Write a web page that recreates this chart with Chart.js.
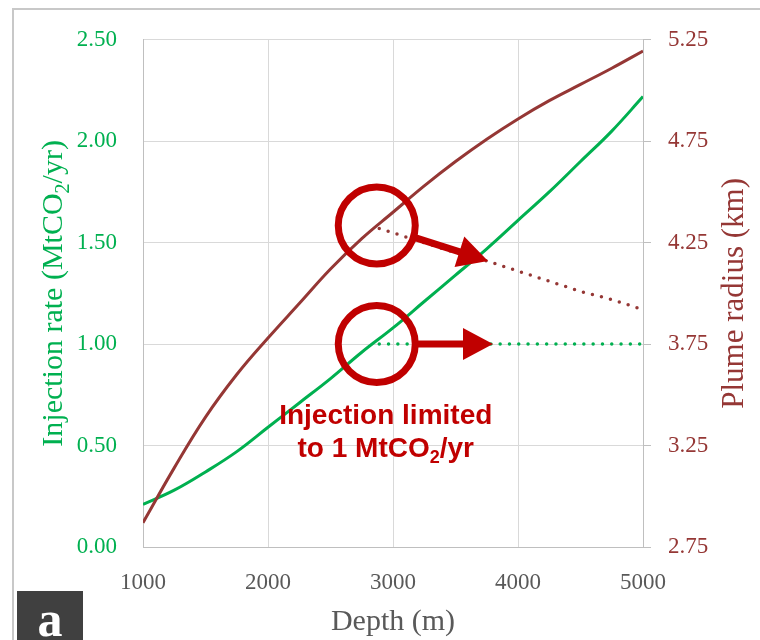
<!DOCTYPE html>
<html>
<head>
<meta charset="utf-8">
<title>Injection rate and plume radius vs depth</title>
<script src="https://cdn.jsdelivr.net/npm/chart.js@4.4.1/dist/chart.umd.min.js"></script>
<style>
  html, body { margin: 0; padding: 0; background: #fff; }
  canvas { display: block; }
</style>
</head>
<body>
<canvas id="chart" width="760" height="640"></canvas>
<script>
// Depth (m)
const depth = [1000, 1250, 1500, 1750, 2000, 2250, 2500, 2750, 3000, 3250, 3500, 3750, 4000, 4250, 4500, 4750, 5000];
// Injection rate, MtCO2/yr (left axis)
const injectionRate = [0.21, 0.28, 0.37, 0.47, 0.59, 0.71, 0.83, 0.96, 1.08, 1.21, 1.34, 1.47, 1.61, 1.75, 1.90, 2.05, 2.22];
// Plume radius, km (right axis)
const plumeRadius = [2.87, 3.14, 3.39, 3.60, 3.78, 3.95, 4.12, 4.27, 4.40, 4.53, 4.65, 4.76, 4.86, 4.95, 5.03, 5.11, 5.195];

// Injection capped at 1 MtCO2/yr
const limitedDepth = [2890, 3250, 3500, 3750, 4000, 4250, 4500, 4750, 5000];
const limitedRate = [1.0, 1.0, 1.0, 1.0, 1.0, 1.0, 1.0, 1.0, 1.0];
const limitedRadius = [4.32, 4.25, 4.20, 4.16, 4.11, 4.06, 4.01, 3.97, 3.92];

// Tick labels
const depthTicks = [1000, 2000, 3000, 4000, 5000];
const rateTicks = [0.0, 0.5, 1.0, 1.5, 2.0, 2.5];
const radiusTicks = [2.75, 3.25, 3.75, 4.25, 4.75, 5.25];

// Where the cap kicks in (circles) and where the arrows point
const capDepth = 2870;
const capRate = 1.0;
const capRadius = 4.335;
const arrowRadiusTip = [3760, 4.16];
const arrowRateTip = [3800, 1.0];

const GREEN = '#00B050';
const BROWN = '#953735';
const RED = '#C00000';
const GRID = '#D9D9D9';
const AXIS = '#BFBFBF';
const SERIF = '"Liberation Serif", "Times New Roman", serif';
const SANS = '"Liberation Sans", Arial, sans-serif';

const pts = (xs, ys) => xs.map((x, i) => ({ x: x, y: ys[i] }));

// text with a subscript piece, centred on (cx, baseline)
function drawRich(ctx, parts, cx, baseline, size, family, weight) {
  const fontFor = (p) => `${weight} ${p.sub ? Math.round(size * 0.65) : size}px ${family}`;
  let total = 0;
  const widths = parts.map(p => {
    ctx.font = fontFor(p);
    const w = ctx.measureText(p.t).width;
    total += w;
    return w;
  });
  let x = cx - total / 2;
  ctx.textAlign = 'left';
  ctx.textBaseline = 'alphabetic';
  parts.forEach((p, i) => {
    ctx.font = fontFor(p);
    ctx.fillText(p.t, x, baseline + (p.sub ? size * 0.22 : 0));
    x += widths[i];
  });
}

function ring(ctx, cx, cy) {
  ctx.beginPath();
  ctx.arc(cx, cy, 38.5, 0, Math.PI * 2);
  ctx.lineWidth = 7;
  ctx.strokeStyle = RED;
  ctx.stroke();
}

function arrow(ctx, cx, cy, tx, ty) {
  const a = Math.atan2(ty - cy, tx - cx);
  const c = Math.cos(a), s = Math.sin(a);
  const head = 30, half = 16;
  const x0 = cx + 38.5 * c, y0 = cy + 38.5 * s;
  const bx = tx - head * c, by = ty - head * s;
  ctx.beginPath();
  ctx.moveTo(x0, y0);
  ctx.lineTo(bx + 2 * c, by + 2 * s);
  ctx.lineWidth = 7;
  ctx.lineCap = 'butt';
  ctx.strokeStyle = RED;
  ctx.stroke();
  ctx.beginPath();
  ctx.moveTo(tx, ty);
  ctx.lineTo(bx - half * s, by + half * c);
  ctx.lineTo(bx + half * s, by - half * c);
  ctx.closePath();
  ctx.fillStyle = RED;
  ctx.fill();
}

const overlay = {
  id: 'overlay',
  beforeDraw(chart) {
    const ctx = chart.ctx;
    ctx.save();
    ctx.strokeStyle = '#C8C8C8';
    ctx.lineWidth = 2;
    ctx.strokeRect(13, 9, 800, 700);
    ctx.restore();
  },
  afterDraw(chart) {
    const { ctx, scales } = chart;
    const x = scales.x, y = scales.y, y1 = scales.y1;
    const midY = (chart.chartArea.top + chart.chartArea.bottom) / 2;
    ctx.save();

    // y axis titles, both reading upwards
    ctx.fillStyle = GREEN;
    ctx.save();
    ctx.translate(62, midY);
    ctx.rotate(-Math.PI / 2);
    drawRich(ctx, [{ t: 'Injection rate (MtCO' }, { t: '2', sub: true }, { t: '/yr)' }], 0, 0, 30, SERIF, 'normal');
    ctx.restore();

    ctx.fillStyle = BROWN;
    ctx.save();
    ctx.translate(743, midY);
    ctx.rotate(-Math.PI / 2);
    drawRich(ctx, [{ t: 'Plume radius (km)' }], 0, 0, 31, SERIF, 'normal');
    ctx.restore();

    // circles and arrows
    const cx = x.getPixelForValue(capDepth);
    const cyTop = y1.getPixelForValue(capRadius);
    const cyBot = y.getPixelForValue(capRate);
    ring(ctx, cx, cyTop);
    ring(ctx, cx, cyBot);
    arrow(ctx, cx, cyTop, x.getPixelForValue(arrowRadiusTip[0]), y1.getPixelForValue(arrowRadiusTip[1]));
    arrow(ctx, cx, cyBot, x.getPixelForValue(arrowRateTip[0]), y.getPixelForValue(arrowRateTip[1]));

    // annotation text
    ctx.fillStyle = RED;
    drawRich(ctx, [{ t: 'Injection limited' }], cx + 9, cyBot + 80, 28, SANS, 'bold');
    drawRich(ctx, [{ t: 'to 1 MtCO' }, { t: '2', sub: true }, { t: '/yr' }], cx + 9, cyBot + 113, 28, SANS, 'bold');

    // panel letter
    ctx.fillStyle = '#404040';
    ctx.fillRect(17, 591, 66, 60);
    ctx.fillStyle = '#FFFFFF';
    ctx.font = `bold 50px ${SERIF}`;
    ctx.textAlign = 'center';
    ctx.textBaseline = 'alphabetic';
    ctx.fillText('a', 50, 636);

    ctx.restore();
  }
};

new Chart(document.getElementById('chart'), {
  type: 'line',
  data: {
    datasets: [
      {
        label: 'Plume radius',
        data: pts(depth, plumeRadius),
        yAxisID: 'y1',
        borderColor: BROWN,
        borderWidth: 3,
        pointRadius: 0,
        tension: 0.4,
        order: 1
      },
      {
        label: 'Injection rate',
        data: pts(depth, injectionRate),
        yAxisID: 'y',
        borderColor: GREEN,
        borderWidth: 3,
        pointRadius: 0,
        tension: 0.4,
        order: 2
      },
      {
        label: 'Plume radius (limited)',
        data: pts(limitedDepth, limitedRadius),
        yAxisID: 'y1',
        borderColor: BROWN,
        borderWidth: 3.5,
        borderDash: [0, 9.3],
        borderCapStyle: 'round',
        pointRadius: 0,
        order: 3
      },
      {
        label: 'Injection rate (limited)',
        data: pts(limitedDepth, limitedRate),
        yAxisID: 'y',
        borderColor: GREEN,
        borderWidth: 3.5,
        borderDash: [0, 9.3],
        borderCapStyle: 'round',
        pointRadius: 0,
        order: 4
      }
    ]
  },
  options: {
    responsive: false,
    animation: false,
    layout: { padding: { top: 37, left: 0, right: 0, bottom: 0 } },
    plugins: {
      legend: { display: false },
      tooltip: { enabled: false }
    },
    scales: {
      x: {
        type: 'linear',
        min: 1000,
        max: 5000,
        afterBuildTicks: (s) => { s.ticks = depthTicks.map(v => ({ value: v })); },
        afterFit: (s) => { s.height = 93; },
        ticks: {
          color: '#595959',
          font: { family: SERIF, size: 23 },
          padding: 22,
          maxRotation: 0,
          callback: (v) => String(v)
        },
        grid: { color: GRID, drawTicks: false },
        border: { color: AXIS },
        title: {
          display: true,
          text: 'Depth (m)',
          color: '#595959',
          font: { family: SERIF, size: 30 },
          padding: { top: 0, bottom: 0 }
        }
      },
      y: {
        position: 'left',
        min: 0,
        max: 2.5,
        afterBuildTicks: (s) => { s.ticks = rateTicks.map(v => ({ value: v })); },
        afterFit: (s) => { s.width = 143; },
        ticks: {
          color: GREEN,
          font: { family: SERIF, size: 23 },
          padding: 26,
          callback: (v) => Number(v).toFixed(2)
        },
        grid: { color: GRID, drawTicks: false },
        border: { color: AXIS }
      },
      y1: {
        position: 'right',
        min: 2.75,
        max: 5.25,
        afterBuildTicks: (s) => { s.ticks = radiusTicks.map(v => ({ value: v })); },
        afterFit: (s) => { s.width = 117; },
        ticks: {
          color: BROWN,
          font: { family: SERIF, size: 23 },
          padding: 17,
          callback: (v) => Number(v).toFixed(2)
        },
        grid: { color: AXIS, drawOnChartArea: false, drawTicks: true, tickLength: 8 },
        border: { color: AXIS }
      }
    }
  },
  plugins: [overlay]
});
</script>
</body>
</html>
